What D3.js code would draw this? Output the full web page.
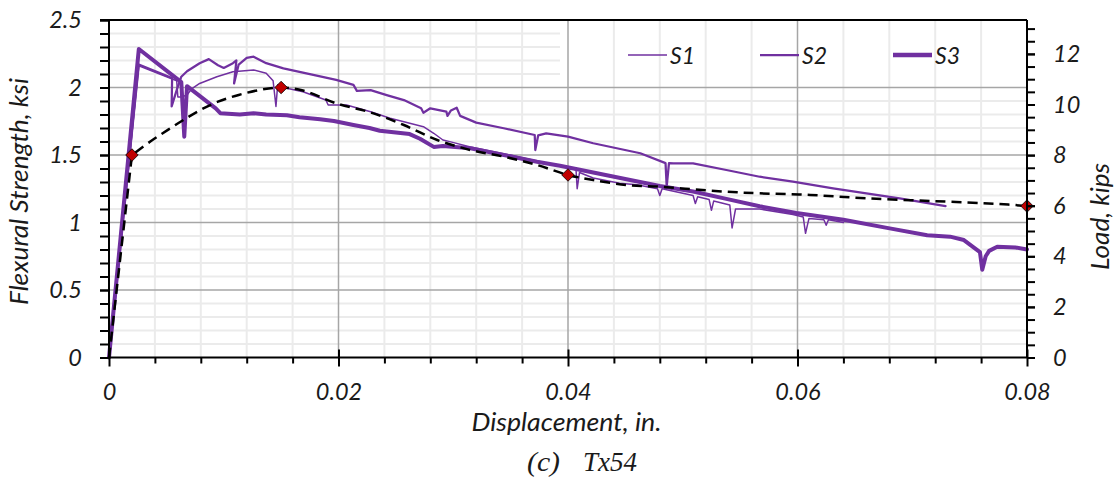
<!DOCTYPE html>
<html><head><meta charset="utf-8">
<script src="https://cdn.jsdelivr.net/npm/d3@7/dist/d3.min.js"></script>
<style>
html,body{margin:0;padding:0;background:#fff;}
svg{display:block;}
text{font-family:Lato,"Open Sans",sans-serif;font-style:italic;fill:#1a1a1a;}
</style></head>
<body><svg id="c" width="1119" height="481"></svg>
<script>
// ---------- data ----------
const xTicks = [0, 0.02, 0.04, 0.06, 0.08];
const xTickLabels = ["0", "0.02", "0.04", "0.06", "0.08"];
const yTicks = [0, 0.5, 1, 1.5, 2, 2.5];
const yTickLabels = ["0", "0.5", "1", "1.5", "2", "2.5"];
const y2Ticks = [0, 2, 4, 6, 8, 10, 12];
const y2TickLabels = ["0", "2", "4", "6", "8", "10", "12"];
const seriesNames = ["S1", "S2", "S3"];

const s1Disp = [0, 0.0026, 0.0059, 0.0060, 0.0063, 0.0068, 0.0072, 0.0079, 0.0094, 0.0108, 0.0126, 0.0137, 0.0143, 0.01455, 0.0147, 0.0152, 0.0169, 0.0189, 0.0191, 0.0207, 0.0228, 0.0245, 0.0257, 0.0274, 0.0283, 0.0291, 0.0297, 0.0315, 0.0344, 0.0373, 0.0398, 0.0407, 0.0408, 0.0410, 0.0422, 0.0445, 0.0460, 0.0478, 0.0480, 0.0482, 0.0509, 0.0511, 0.0513, 0.0523, 0.0525, 0.0527, 0.0541, 0.0543, 0.0546, 0.0567, 0.0596, 0.0605, 0.0607, 0.0610, 0.0623, 0.0625, 0.0627, 0.0640];
const s1Stress = [0, 2.16, 2.05, 1.93, 1.93, 1.945, 1.99, 2.03, 2.08, 2.117, 2.13, 2.105, 2.05, 1.86, 2.02, 2.0, 1.969, 1.907, 1.87, 1.87, 1.821, 1.772, 1.747, 1.71, 1.661, 1.611, 1.599, 1.56, 1.51, 1.455, 1.41, 1.39, 1.25, 1.37, 1.33, 1.29, 1.28, 1.25, 1.2, 1.25, 1.2, 1.14, 1.19, 1.17, 1.09, 1.16, 1.13, 0.96, 1.1, 1.1, 1.06, 1.04, 0.92, 1.03, 1.02, 0.98, 1.02, 1.0];

const s2Disp = [0, 0.0026, 0.0055, 0.00546, 0.0059, 0.0063, 0.0068, 0.0079, 0.0087, 0.0095, 0.0100, 0.0108, 0.0111, 0.0109, 0.0113, 0.0120, 0.0126, 0.0137, 0.0152, 0.0169, 0.0198, 0.0213, 0.0216, 0.0228, 0.0242, 0.0257, 0.0272, 0.0274, 0.0280, 0.0294, 0.0295, 0.0298, 0.0303, 0.0306, 0.0320, 0.0344, 0.0371, 0.03715, 0.0374, 0.0381, 0.0400, 0.0422, 0.0463, 0.0485, 0.0486, 0.0488, 0.0492, 0.0509, 0.0538, 0.0567, 0.0596, 0.0631, 0.0660, 0.0689, 0.0729];
const s2Stress = [0, 2.17, 2.07, 1.86, 1.98, 2.08, 2.12, 2.18, 2.21, 2.165, 2.145, 2.18, 2.20, 2.03, 2.17, 2.22, 2.228, 2.18, 2.142, 2.11, 2.056, 2.02, 1.975, 1.98, 1.944, 1.907, 1.846, 1.813, 1.846, 1.821, 1.79, 1.83, 1.85, 1.79, 1.74, 1.698, 1.648, 1.537, 1.645, 1.66, 1.636, 1.587, 1.513, 1.44, 1.265, 1.44, 1.438, 1.438, 1.389, 1.339, 1.302, 1.253, 1.216, 1.179, 1.122];

const s3Disp = [0, 0.0026, 0.0063, 0.00656, 0.0068, 0.0093, 0.0097, 0.0114, 0.0126, 0.0137, 0.0155, 0.0166, 0.0184, 0.0196, 0.0213, 0.0227, 0.0236, 0.0262, 0.0271, 0.0283, 0.0291, 0.0315, 0.0344, 0.0373, 0.0393, 0.0422, 0.0451, 0.0480, 0.0509, 0.0538, 0.0567, 0.0599, 0.0640, 0.0678, 0.0713, 0.0733, 0.0745, 0.0759, 0.0761, 0.0764, 0.0767, 0.0774, 0.0790, 0.0800];
const s3Stress = [0, 2.285, 2.04, 1.636, 2.01, 1.845, 1.81, 1.80, 1.81, 1.80, 1.795, 1.78, 1.765, 1.752, 1.722, 1.70, 1.68, 1.655, 1.62, 1.56, 1.567, 1.55, 1.50, 1.45, 1.42, 1.37, 1.32, 1.27, 1.23, 1.175, 1.12, 1.07, 1.02, 0.96, 0.905, 0.895, 0.87, 0.78, 0.65, 0.75, 0.79, 0.82, 0.815, 0.80];

// model curve: straight elastic rise, then smooth curve through the read points
const modelRiseDisp = [0, 0.002];
const modelRiseStress = [0, 1.5];
const modelDisp = [0.002, 0.0036, 0.0052, 0.0066, 0.0080, 0.0095, 0.0113, 0.0132, 0.015, 0.0169, 0.0198, 0.0228, 0.0257, 0.0286, 0.0315, 0.0344, 0.0373, 0.040, 0.0422, 0.0451, 0.048, 0.0509, 0.0538, 0.0567, 0.0611, 0.066, 0.0718, 0.0776, 0.08];
const modelStress = [1.5, 1.60, 1.69, 1.765, 1.835, 1.895, 1.945, 1.983, 2.0, 1.978, 1.883, 1.815, 1.722, 1.611, 1.537, 1.488, 1.426, 1.352, 1.315, 1.278, 1.265, 1.246, 1.228, 1.216, 1.204, 1.179, 1.159, 1.137, 1.122];

const markerDisp = [0.002, 0.015, 0.04, 0.08];
const markerStress = [1.5, 2.0, 1.352, 1.122];

// ---------- layout ----------
const L = 109, R = 1027, T = 20, B = 357.5;
const purple = "#7030A0";
const svg = d3.select("#c");
const x = d3.scaleLinear().domain([0, 0.08]).range([L, R]);
const y = d3.scaleLinear().domain([0, 2.5]).range([B, T]);
const y2 = d3.scaleLinear().domain([0, 13.34]).range([B, T]);

const r = v => Math.round(v * 1e6) / 1e6;
const xMinor = d3.range(1, 20).map(i => r(i * 0.004)).filter(v => Math.abs(v / 0.02 - Math.round(v / 0.02)) > 1e-6);
const yMinor = d3.range(1, 25).map(i => r(i * 0.1)).filter(v => Math.abs(v / 0.5 - Math.round(v / 0.5)) > 1e-6);

const grid = svg.append("g");
grid.selectAll(".vx").data(xMinor).enter().append("line")
  .attr("x1", d => x(d)).attr("x2", d => x(d)).attr("y1", T).attr("y2", B)
  .attr("stroke", "#ebebeb").attr("stroke-width", 2);
grid.selectAll(".hy").data(yMinor).enter().append("line")
  .attr("x1", L).attr("x2", d => d > 2.0 ? 560 : R).attr("y1", d => y(d)).attr("y2", d => y(d))
  .attr("stroke", "#ebebeb").attr("stroke-width", 2);
grid.selectAll(".vX").data(xTicks.slice(1, -1)).enter().append("line")
  .attr("x1", d => x(d)).attr("x2", d => x(d)).attr("y1", T).attr("y2", B)
  .attr("stroke", "#a6a6a6").attr("stroke-width", 1.5);
grid.selectAll(".hY").data(yTicks.slice(1, -1)).enter().append("line")
  .attr("x1", L).attr("x2", R).attr("y1", d => y(d)).attr("y2", d => y(d))
  .attr("stroke", "#a6a6a6").attr("stroke-width", 1.5);

// ---------- series ----------
const line = d3.line().x(d => x(d[0])).y(d => y(d[1]));
const zip = (a, b) => a.map((v, i) => [v, b[i]]);
const series = [
  {name: seriesNames[0], pts: zip(s1Disp, s1Stress), w: 1.5},
  {name: seriesNames[1], pts: zip(s2Disp, s2Stress), w: 2.25},
  {name: seriesNames[2], pts: zip(s3Disp, s3Stress), w: 4}
];
const plot = svg.append("g");
series.forEach(s => {
  plot.append("path").attr("d", line(s.pts)).attr("fill", "none")
    .attr("stroke", purple).attr("stroke-width", s.w).attr("stroke-linejoin", "round").attr("stroke-linecap", "round");
});
const smooth = d3.line().x(d => x(d[0])).y(d => y(d[1])).curve(d3.curveCatmullRom.alpha(0.5));
const modelPath = line(zip(modelRiseDisp, modelRiseStress)) + smooth(zip(modelDisp, modelStress)).replace(/^M[^A-Za-z]*/, "");
plot.append("path").attr("d", modelPath)
  .attr("fill", "none").attr("stroke", "#000").attr("stroke-width", 2.5).attr("stroke-dasharray", "10,6");
plot.selectAll(".mk").data(zip(markerDisp, markerStress)).enter().append("path")
  .attr("d", d3.symbol().type(d3.symbolDiamond2).size(100))
  .attr("transform", d => `translate(${x(d[0])},${y(d[1])})`)
  .attr("fill", "#C00000").attr("stroke", "#000").attr("stroke-width", 0.8);

// ---------- axes ----------
const axFont = "23.5px";
const gx = svg.append("g").attr("transform", `translate(0,${B})`);
gx.call(d3.axisBottom(x).tickValues(xMinor).tickSize(6).tickFormat(""));
const gx2 = svg.append("g").attr("transform", `translate(0,${B})`);
gx2.call(d3.axisBottom(x).tickValues(xTicks).tickSize(9).tickPadding(17).tickFormat((d, i) => xTickLabels[i]));
gx2.selectAll(".tick line").attr("y1", -8);
[gx, gx2].forEach(g => { g.select(".domain").remove(); g.selectAll("line").attr("stroke", "#000").attr("stroke-width", 2); });
gx2.selectAll("text").style("font-size", axFont).attr("font-family", null);
svg.append("line").attr("x1", L).attr("x2", R).attr("y1", B).attr("y2", B).attr("stroke", "#000").attr("stroke-width", 2);

const yMinorTicks = d3.range(0, 26).map(i => r(i * 0.1));
const gy = svg.append("g").attr("transform", `translate(${L},0)`);
gy.call(d3.axisLeft(y).tickValues(yMinorTicks).tickSize(9).tickFormat(""));
const gy2 = svg.append("g").attr("transform", `translate(${L},0)`);
gy2.call(d3.axisLeft(y).tickValues(yTicks).tickSize(9).tickPadding(18).tickFormat((d, i) => yTickLabels[i]));
[gy, gy2].forEach(g => { g.select(".domain").remove(); g.selectAll("line").attr("stroke", "#000").attr("stroke-width", 2); });
gy2.selectAll("text").style("font-size", axFont).attr("font-family", null);
svg.append("line").attr("x1", L).attr("x2", L).attr("y1", T).attr("y2", B).attr("stroke", "#000").attr("stroke-width", 2);

const y2Minor = d3.range(0, 27).map(i => r(i * 0.5));
const gr = svg.append("g").attr("transform", `translate(${R},0)`);
gr.call(d3.axisRight(y2).tickValues(y2Minor).tickSize(8).tickFormat(""));
const gr2 = svg.append("g").attr("transform", `translate(${R},0)`);
gr2.call(d3.axisRight(y2).tickValues(y2Ticks).tickSize(8).tickPadding(18).tickFormat((d, i) => y2TickLabels[i]));
[gr, gr2].forEach(g => { g.select(".domain").remove(); g.selectAll("line").attr("stroke", "#000").attr("stroke-width", 2); });
gr2.selectAll("text").style("font-size", axFont).attr("font-family", null);
svg.append("line").attr("x1", R).attr("x2", R).attr("y1", T).attr("y2", B).attr("stroke", "#000").attr("stroke-width", 2);

svg.append("line").attr("x1", L - 9).attr("x2", R).attr("y1", T).attr("y2", T).attr("stroke", "#000").attr("stroke-width", 2);

// ---------- titles ----------
const fit = (sel, len) => sel.attr("textLength", len).attr("lengthAdjust", "spacingAndGlyphs");
fit(svg.append("text").attr("transform", `translate(28,191.5) rotate(-90)`)
  .attr("text-anchor", "middle").style("font-size", "25px").text("Flexural Strength, ksi"), 227);
fit(svg.append("text").attr("transform", `translate(1109,216.5) rotate(-90)`)
  .attr("text-anchor", "middle").style("font-size", "25px").text("Load, kips"), 107);
fit(svg.append("text").attr("x", 566.5).attr("y", 431).attr("text-anchor", "middle")
  .style("font-size", "25px").text("Displacement, in."), 190);
fit(svg.append("text").attr("x", 527).attr("y", 471).attr("text-anchor", "start")
  .style("font-family", "'Liberation Serif',serif").style("font-size", "28px").text("(c)"), 33);
fit(svg.append("text").attr("x", 583).attr("y", 471).attr("text-anchor", "start")
  .style("font-family", "'Liberation Serif',serif").style("font-size", "28px").text("Tx54"), 54);

// ---------- legend ----------
const legX = [628, 760, 893];
const leg = svg.append("g");
series.forEach((s, i) => {
  leg.append("line").attr("x1", legX[i]).attr("x2", legX[i] + 39).attr("y1", 55).attr("y2", 55)
    .attr("stroke", purple).attr("stroke-width", s.w === 4 ? 4.5 : s.w);
  leg.append("text").attr("x", legX[i] + 42).attr("y", 63.5).style("font-size", "23px").text(s.name);
});
</script></body></html>
